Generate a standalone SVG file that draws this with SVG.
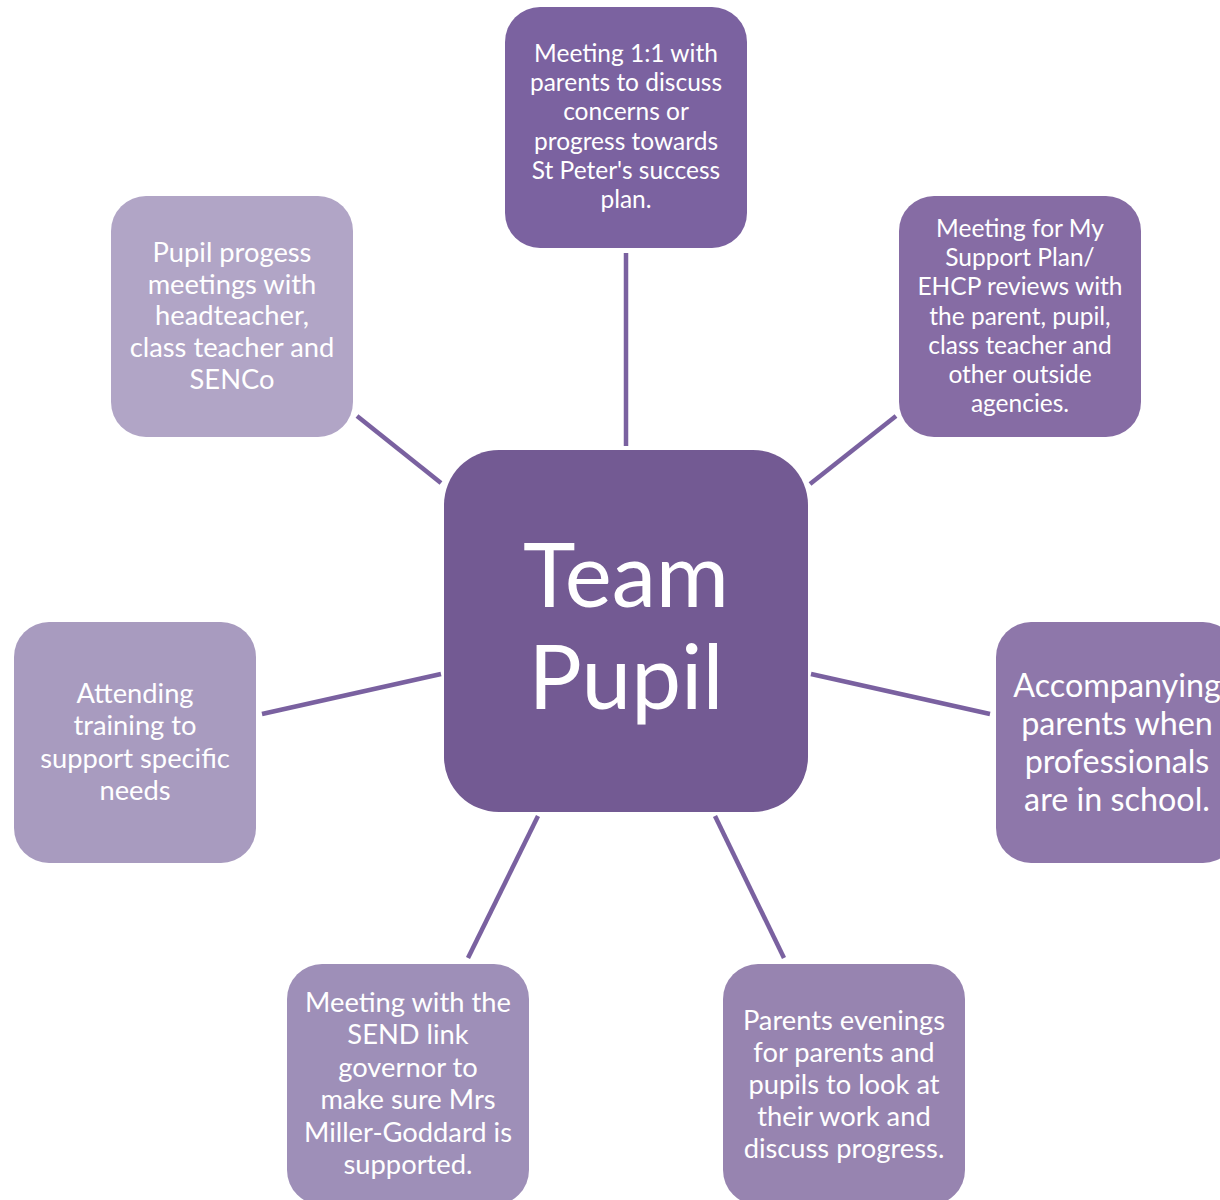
<svg xmlns="http://www.w3.org/2000/svg" width="1220" height="1200" viewBox="0 0 1220 1200">
<style>
.n rect{rx:35px}
.t{font-family:Lato,"Open Sans",sans-serif;fill:#fff;text-anchor:middle}
.s{font-size:24.5px}
.m{font-size:27.3px}
.l{font-size:32.3px}
.c{font-size:89px}
.conn line{stroke:#7A61A0;stroke-width:4.5;stroke-linecap:butt}
</style>
<rect width="1220" height="1200" fill="#fff"/>
<g class="conn" id="connectors">
<line x1="626" y1="253" x2="626" y2="446"/>
<line x1="357" y1="416" x2="441" y2="483"/>
<line x1="810" y1="484" x2="896" y2="416"/>
<line x1="262" y1="714" x2="441" y2="674"/>
<line x1="811" y1="674" x2="990" y2="714"/>
<line x1="538" y1="816" x2="468" y2="958"/>
<line x1="715" y1="816" x2="784" y2="958"/>
</g>
<g id="center" class="n"><rect x="444" y="450" width="364" height="362" style="rx:55px" fill="#735A93"/>
<text class="t c" x="626" y="607">Team</text><text class="t c" x="626" y="709">Pupil</text></g>
<g id="top" class="n"><rect x="505" y="7" width="242" height="241" fill="#7B62A0"/>
<text class="t s" x="626"><tspan x="626" y="62">Meeting 1:1 with</tspan><tspan x="626" y="91">parents to discuss</tspan><tspan x="626" y="120">concerns or</tspan><tspan x="626" y="150">progress towards</tspan><tspan x="626" y="179">St Peter's success</tspan><tspan x="626" y="208">plan.</tspan></text></g>
<g id="topright" class="n"><rect x="899" y="196" width="242" height="241" fill="#866CA4"/>
<text class="t s"><tspan x="1020" y="237">Meeting for My</tspan><tspan x="1020" y="266">Support Plan/</tspan><tspan x="1020" y="295">EHCP reviews with</tspan><tspan x="1020" y="325">the parent, pupil,</tspan><tspan x="1020" y="354">class teacher and</tspan><tspan x="1020" y="383">other outside</tspan><tspan x="1020" y="412">agencies.</tspan></text></g>
<g id="topleft" class="n"><rect x="111" y="196" width="242" height="241" fill="#B1A5C6"/>
<text class="t m"><tspan x="232" y="262">Pupil progess</tspan><tspan x="232" y="294">meetings with</tspan><tspan x="232" y="325">headteacher,</tspan><tspan x="232" y="357">class teacher and</tspan><tspan x="232" y="389">SENCo</tspan></text></g>
<g id="left" class="n"><rect x="14" y="622" width="242" height="241" fill="#A89BBF"/>
<text class="t m"><tspan x="135" y="703">Attending</tspan><tspan x="135" y="735">training to</tspan><tspan x="135" y="768">support specific</tspan><tspan x="135" y="800">needs</tspan></text></g>
<g id="right" class="n"><rect x="996" y="622" width="242" height="241" fill="#8E77AA"/>
<text class="t l"><tspan x="1117" y="697">Accompanying</tspan><tspan x="1117" y="735">parents when</tspan><tspan x="1117" y="773">professionals</tspan><tspan x="1117" y="811">are in school.</tspan></text></g>
<g id="bottomleft" class="n"><rect x="287" y="964" width="242" height="241" fill="#9E8FB8"/>
<text class="t m"><tspan x="408" y="1012">Meeting with the</tspan><tspan x="408" y="1044">SEND link</tspan><tspan x="408" y="1077">governor to</tspan><tspan x="408" y="1109">make sure Mrs</tspan><tspan x="408" y="1142">Miller-Goddard is</tspan><tspan x="408" y="1174">supported.</tspan></text></g>
<g id="bottomright" class="n"><rect x="723" y="964" width="242" height="241" fill="#9784B0"/>
<text class="t m"><tspan x="844" y="1030">Parents evenings</tspan><tspan x="844" y="1062">for parents and</tspan><tspan x="844" y="1094">pupils to look at</tspan><tspan x="844" y="1126">their work and</tspan><tspan x="844" y="1158">discuss progress.</tspan></text></g>
</svg>
